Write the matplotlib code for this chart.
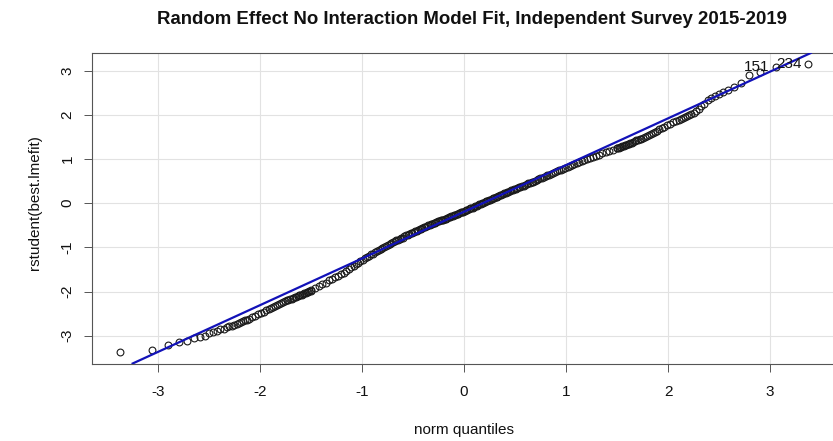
import matplotlib
matplotlib.use("Agg")
import matplotlib.pyplot as plt
from statistics import NormalDist

plt.rcParams['font.family'] = ['Liberation Sans', 'DejaVu Sans']

# number of residuals behind the qq plot
n_obs = 1350

# ranks of the sorted residuals that are drawn (tails one by one, body thinned)
lower_tail_ranks = list(range(1, 25))
lower_shoulder_ranks = list(range(26, 91, 2))
body_ranks = list(range(91, 1261, 7))
upper_shoulder_ranks = list(range(1261, 1326, 2))
upper_tail_ranks = list(range(1327, 1351))

# sorted studentized residuals
lower_tail = [-3.37, -3.32, -3.21, -3.14, -3.13, -3.06, -3.02, -3.00, -2.95, -2.92,
              -2.89, -2.86, -2.84, -2.81, -2.79, -2.77, -2.75, -2.73, -2.71, -2.69,
              -2.67, -2.65, -2.64, -2.62]
lower_shoulder = [-2.58, -2.55, -2.52, -2.49, -2.46, -2.43, -2.40, -2.37, -2.35, -2.32,
                  -2.30, -2.28, -2.26, -2.24, -2.22, -2.20, -2.19, -2.17, -2.16, -2.14,
                  -2.13, -2.12, -2.10, -2.09, -2.08, -2.07, -2.05, -2.04, -2.03, -2.02,
                  -2.00, -1.99, -1.98]
body = [-1.97, -1.93, -1.88, -1.83, -1.80, -1.75, -1.72, -1.68, -1.65, -1.61,
        -1.57, -1.53, -1.50, -1.45, -1.42, -1.38, -1.35, -1.32, -1.28, -1.25,
        -1.22, -1.19, -1.16, -1.14, -1.11, -1.09, -1.06, -1.04, -1.01, -0.99,
        -0.97, -0.94, -0.92, -0.91, -0.89, -0.86, -0.84, -0.83, -0.81, -0.79,
        -0.78, -0.75, -0.73, -0.72, -0.70, -0.68, -0.67, -0.65, -0.64, -0.62,
        -0.61, -0.59, -0.58, -0.56, -0.55, -0.53, -0.52, -0.50, -0.50, -0.48,
        -0.47, -0.46, -0.44, -0.43, -0.41, -0.41, -0.39, -0.38, -0.37, -0.35,
        -0.35, -0.33, -0.32, -0.31, -0.30, -0.29, -0.27, -0.26, -0.25, -0.24,
        -0.23, -0.21, -0.20, -0.19,
        -0.17, -0.16, -0.15, -0.13, -0.12, -0.11, -0.10, -0.08, -0.07, -0.06,
        -0.04, -0.03, -0.02, 0.00, 0.01, 0.03, 0.04, 0.05, 0.07, 0.08,
        0.10, 0.11, 0.12, 0.14, 0.15, 0.16, 0.18, 0.19, 0.21, 0.22,
        0.23, 0.25, 0.26, 0.28, 0.29, 0.30, 0.32, 0.33, 0.34, 0.36,
        0.37, 0.39, 0.40, 0.42, 0.43, 0.45, 0.46, 0.48, 0.49, 0.51,
        0.52, 0.54, 0.56, 0.57, 0.59, 0.61, 0.63, 0.64, 0.66, 0.68,
        0.70, 0.72, 0.74, 0.76, 0.77, 0.79, 0.81, 0.84, 0.86, 0.88,
        0.90, 0.93, 0.95, 0.97, 1.00, 1.02, 1.05, 1.07, 1.10, 1.13,
        1.15, 1.18, 1.21, 1.24]
upper_shoulder = [1.25, 1.26, 1.27, 1.28, 1.29, 1.30, 1.31, 1.32, 1.34, 1.35,
                  1.36, 1.37, 1.39, 1.40, 1.42, 1.43, 1.45, 1.46, 1.48, 1.50,
                  1.52, 1.54, 1.56, 1.59, 1.61, 1.64, 1.67, 1.70, 1.73, 1.76,
                  1.79, 1.83, 1.86]
upper_tail = [1.89, 1.91, 1.93, 1.95, 1.98, 2.00, 2.02, 2.04, 2.08, 2.13,
              2.19, 2.25, 2.33, 2.39, 2.42, 2.48, 2.52, 2.56, 2.63, 2.71,
              2.90, 2.97, 3.09, 3.14]

# reference line through the quartiles
line_intercept = -0.195
line_slope = 1.058

# labelled points (rank, label)
id_ranks = [1349, 1350]
id_labels = ["151", "234"]

ticks = [-3, -2, -1, 0, 1, 2, 3]

ranks = lower_tail_ranks + lower_shoulder_ranks + body_ranks + upper_shoulder_ranks + upper_tail_ranks
resid = lower_tail + lower_shoulder + body + upper_shoulder + upper_tail
assert len(ranks) == len(resid), (len(ranks), len(resid))

nd = NormalDist()
theo = [nd.inv_cdf((r - 0.5) / n_obs) for r in ranks]

W, H = 833, 441
fig = plt.figure(figsize=(W / 100, H / 100), dpi=100)
left, right, top, bottom = 92, 836, 53, 363.5
ax = fig.add_axes([left / W, 1 - bottom / H, (right - left) / W, (bottom - top) / H])

ax.set_xlim(-3.645, 3.645)
ax.set_ylim(-3.63, 3.40)

for t in ticks:
    ax.axvline(t, color='#e2e2e2', lw=0.8, zorder=0)
    ax.axhline(t, color='#e2e2e2', lw=0.8, zorder=0)

ax.plot(theo, resid, linestyle='none', marker='o', ms=4.9, mfc='none',
        mec='#1a1a1a', mew=0.8, zorder=2)
ax.axline((0, line_intercept), slope=line_slope, color='#1212b8', lw=1.6, zorder=3)

for r, lab in zip(id_ranks, id_labels):
    i = ranks.index(r)
    ax.annotate(lab, (theo[i], resid[i]), xytext=(-5, 0), textcoords='offset points',
                ha='right', va='center', fontsize=11, color='#111111', zorder=4)

ax.set_xticks(ticks)
ax.set_yticks(ticks)
ax.set_xticklabels([str(t) for t in ticks])
ax.set_yticklabels([str(t) for t in ticks], rotation=90, va='center')
ax.tick_params(axis='both', length=5.5, width=0.7, color='#555555',
               labelsize=11, labelcolor='#111111')
ax.tick_params(axis='x', pad=10)
ax.tick_params(axis='y', pad=7)
for s in ax.spines.values():
    s.set_color('#555555')
    s.set_linewidth(0.8)

fig.text(35 / W, 1 - 203 / H, "rstudent(best.lmefit)", rotation=90,
         ha='center', va='center', fontsize=11, color='#111111')
fig.text(464 / W, 1 - 430 / H, "norm quantiles", ha='center', va='center',
         fontsize=11, color='#111111')
fig.text(472 / W, 1 - 19 / H, "Random Effect No Interaction Model Fit, Independent Survey 2015-2019",
         ha='center', va='center', fontsize=13.4, fontweight='bold', color='#111111')

fig.savefig("out.png", dpi=100)
